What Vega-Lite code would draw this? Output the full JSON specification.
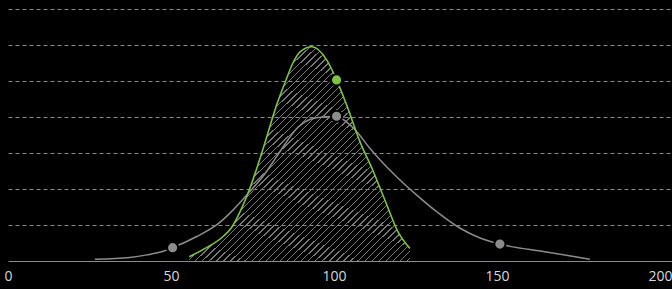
{
  "$schema": "https://vega.github.io/schema/vega-lite/v6.json",
  "width": 664,
  "height": 261,
  "autosize": {"type": "none"},
  "padding": {"left": 8, "top": 0, "right": 0, "bottom": 28},
  "background": "#000000",
  "config": {"view": {"stroke": null}},
  "datasets": {
    "curves": [
      {"series": "gray", "x": 26.7, "y": 0.05},
      {"series": "gray", "x": 37.4, "y": 0.1},
      {"series": "gray", "x": 42.6, "y": 0.17},
      {"series": "gray", "x": 47.6, "y": 0.27},
      {"series": "gray", "x": 50.5, "y": 0.37},
      {"series": "gray", "x": 57.9, "y": 0.68},
      {"series": "gray", "x": 64.4, "y": 1.03},
      {"series": "gray", "x": 68.1, "y": 1.33},
      {"series": "gray", "x": 74.2, "y": 1.93},
      {"series": "gray", "x": 78.3, "y": 2.36},
      {"series": "gray", "x": 82.4, "y": 2.9},
      {"series": "gray", "x": 85.0, "y": 3.25},
      {"series": "gray", "x": 88.6, "y": 3.68},
      {"series": "gray", "x": 92.6, "y": 3.93},
      {"series": "gray", "x": 97.2, "y": 4.01},
      {"series": "gray", "x": 100.6, "y": 4.02},
      {"series": "gray", "x": 103.4, "y": 3.89},
      {"series": "gray", "x": 107.0, "y": 3.59},
      {"series": "gray", "x": 111.0, "y": 3.13},
      {"series": "gray", "x": 114.1, "y": 2.81},
      {"series": "gray", "x": 119.2, "y": 2.34},
      {"series": "gray", "x": 125.4, "y": 1.83},
      {"series": "gray", "x": 131.5, "y": 1.37},
      {"series": "gray", "x": 138.7, "y": 0.91},
      {"series": "gray", "x": 144.8, "y": 0.64},
      {"series": "gray", "x": 150.9, "y": 0.47},
      {"series": "gray", "x": 164.7, "y": 0.26},
      {"series": "gray", "x": 178.5, "y": 0.05},
      {"series": "green", "x": 55.6, "y": 0.12},
      {"series": "green", "x": 60.9, "y": 0.37},
      {"series": "green", "x": 66.0, "y": 0.68},
      {"series": "green", "x": 68.6, "y": 0.93},
      {"series": "green", "x": 71.2, "y": 1.37},
      {"series": "green", "x": 74.2, "y": 2.02},
      {"series": "green", "x": 78.3, "y": 3.13},
      {"series": "green", "x": 82.4, "y": 4.33},
      {"series": "green", "x": 85.3, "y": 5.03},
      {"series": "green", "x": 87.4, "y": 5.5},
      {"series": "green", "x": 89.6, "y": 5.81},
      {"series": "green", "x": 93.2, "y": 5.95},
      {"series": "green", "x": 97.8, "y": 5.58},
      {"series": "green", "x": 100.8, "y": 5.03},
      {"series": "green", "x": 103.9, "y": 4.33},
      {"series": "green", "x": 108.0, "y": 3.31},
      {"series": "green", "x": 112.1, "y": 2.48},
      {"series": "green", "x": 116.2, "y": 1.56},
      {"series": "green", "x": 119.7, "y": 0.8},
      {"series": "green", "x": 123.3, "y": 0.35}
    ],
    "dots": [
      {"series": "gray", "x": 50.5, "y": 0.37},
      {"series": "gray", "x": 100.8, "y": 4.02},
      {"series": "gray", "x": 150.9, "y": 0.47},
      {"series": "green", "x": 100.8, "y": 5.03}
    ]
  },
  "encoding": {
    "x": {
      "field": "x",
      "type": "quantitative",
      "scale": {"domain": [0, 203.7], "nice": false, "zero": false},
      "axis": {
        "title": null,
        "values": [0, 50, 100, 150, 200],
        "grid": false,
        "ticks": false,
        "domainColor": "#8a8a8a",
        "domainWidth": 1,
        "labelColor": "#d8d8d8",
        "labelFont": "Open Sans",
        "labelFontSize": 14,
        "labelPadding": 8,
        "labelFlush": false
      }
    },
    "y": {
      "field": "y",
      "type": "quantitative",
      "scale": {"domain": [0, 7.25], "nice": false},
      "axis": {
        "title": null,
        "values": [1, 2, 3, 4, 5, 6, 7],
        "labels": false,
        "ticks": false,
        "domain": false,
        "grid": true,
        "gridColor": "#8a8a8a",
        "gridDash": [4, 3],
        "gridWidth": 1
      }
    }
  },
  "layer": [
    {
      "data": {"name": "curves"},
      "transform": [{"filter": "datum.series === 'green'"}],
      "mark": {
        "type": "area",
        "interpolate": "monotone",
        "color": {
          "gradient": "linear",
          "x1": 0, "y1": 0, "x2": 1, "y2": 1,
          "stops": [
            {"offset": 0, "color": "#777"}, {"offset": 0.003, "color": "#777"}, {"offset": 0.003, "color": "rgba(0,0,0,0)"}, {"offset": 0.016, "color": "rgba(0,0,0,0)"},
            {"offset": 0.016, "color": "#777"}, {"offset": 0.019, "color": "#777"}, {"offset": 0.019, "color": "rgba(0,0,0,0)"}, {"offset": 0.032, "color": "rgba(0,0,0,0)"},
            {"offset": 0.032, "color": "#777"}, {"offset": 0.035, "color": "#777"}, {"offset": 0.035, "color": "rgba(0,0,0,0)"}, {"offset": 0.048, "color": "rgba(0,0,0,0)"},
            {"offset": 0.048, "color": "#777"}, {"offset": 0.051, "color": "#777"}, {"offset": 0.051, "color": "rgba(0,0,0,0)"}, {"offset": 0.064, "color": "rgba(0,0,0,0)"},
            {"offset": 0.064, "color": "#777"}, {"offset": 0.067, "color": "#777"}, {"offset": 0.067, "color": "rgba(0,0,0,0)"}, {"offset": 0.08, "color": "rgba(0,0,0,0)"},
            {"offset": 0.08, "color": "#777"}, {"offset": 0.083, "color": "#777"}, {"offset": 0.083, "color": "rgba(0,0,0,0)"}, {"offset": 0.096, "color": "rgba(0,0,0,0)"},
            {"offset": 0.096, "color": "#777"}, {"offset": 0.099, "color": "#777"}, {"offset": 0.099, "color": "rgba(0,0,0,0)"}, {"offset": 0.112, "color": "rgba(0,0,0,0)"},
            {"offset": 0.112, "color": "#777"}, {"offset": 0.115, "color": "#777"}, {"offset": 0.115, "color": "rgba(0,0,0,0)"}, {"offset": 0.128, "color": "rgba(0,0,0,0)"},
            {"offset": 0.128, "color": "#777"}, {"offset": 0.131, "color": "#777"}, {"offset": 0.131, "color": "rgba(0,0,0,0)"}, {"offset": 0.144, "color": "rgba(0,0,0,0)"},
            {"offset": 0.144, "color": "#777"}, {"offset": 0.147, "color": "#777"}, {"offset": 0.147, "color": "rgba(0,0,0,0)"}, {"offset": 0.16, "color": "rgba(0,0,0,0)"},
            {"offset": 0.16, "color": "#777"}, {"offset": 0.163, "color": "#777"}, {"offset": 0.163, "color": "rgba(0,0,0,0)"}, {"offset": 0.176, "color": "rgba(0,0,0,0)"},
            {"offset": 0.176, "color": "#777"}, {"offset": 0.179, "color": "#777"}, {"offset": 0.179, "color": "rgba(0,0,0,0)"}, {"offset": 0.192, "color": "rgba(0,0,0,0)"},
            {"offset": 0.192, "color": "#777"}, {"offset": 0.195, "color": "#777"}, {"offset": 0.195, "color": "rgba(0,0,0,0)"}, {"offset": 0.208, "color": "rgba(0,0,0,0)"},
            {"offset": 0.208, "color": "#777"}, {"offset": 0.211, "color": "#777"}, {"offset": 0.211, "color": "rgba(0,0,0,0)"}, {"offset": 0.224, "color": "rgba(0,0,0,0)"},
            {"offset": 0.224, "color": "#777"}, {"offset": 0.227, "color": "#777"}, {"offset": 0.227, "color": "rgba(0,0,0,0)"}, {"offset": 0.24, "color": "rgba(0,0,0,0)"},
            {"offset": 0.24, "color": "#777"}, {"offset": 0.243, "color": "#777"}, {"offset": 0.243, "color": "rgba(0,0,0,0)"}, {"offset": 0.256, "color": "rgba(0,0,0,0)"},
            {"offset": 0.256, "color": "#777"}, {"offset": 0.259, "color": "#777"}, {"offset": 0.259, "color": "rgba(0,0,0,0)"}, {"offset": 0.272, "color": "rgba(0,0,0,0)"},
            {"offset": 0.272, "color": "#777"}, {"offset": 0.275, "color": "#777"}, {"offset": 0.275, "color": "rgba(0,0,0,0)"}, {"offset": 0.288, "color": "rgba(0,0,0,0)"},
            {"offset": 0.288, "color": "#777"}, {"offset": 0.291, "color": "#777"}, {"offset": 0.291, "color": "rgba(0,0,0,0)"}, {"offset": 0.304, "color": "rgba(0,0,0,0)"},
            {"offset": 0.304, "color": "#777"}, {"offset": 0.307, "color": "#777"}, {"offset": 0.307, "color": "rgba(0,0,0,0)"}, {"offset": 0.32, "color": "rgba(0,0,0,0)"},
            {"offset": 0.32, "color": "#777"}, {"offset": 0.323, "color": "#777"}, {"offset": 0.323, "color": "rgba(0,0,0,0)"}, {"offset": 0.336, "color": "rgba(0,0,0,0)"},
            {"offset": 0.336, "color": "#777"}, {"offset": 0.339, "color": "#777"}, {"offset": 0.339, "color": "rgba(0,0,0,0)"}, {"offset": 0.352, "color": "rgba(0,0,0,0)"},
            {"offset": 0.352, "color": "#777"}, {"offset": 0.355, "color": "#777"}, {"offset": 0.355, "color": "rgba(0,0,0,0)"}, {"offset": 0.368, "color": "rgba(0,0,0,0)"},
            {"offset": 0.368, "color": "#777"}, {"offset": 0.371, "color": "#777"}, {"offset": 0.371, "color": "rgba(0,0,0,0)"}, {"offset": 0.384, "color": "rgba(0,0,0,0)"},
            {"offset": 0.384, "color": "#777"}, {"offset": 0.387, "color": "#777"}, {"offset": 0.387, "color": "rgba(0,0,0,0)"}, {"offset": 0.4, "color": "rgba(0,0,0,0)"},
            {"offset": 0.4, "color": "#777"}, {"offset": 0.403, "color": "#777"}, {"offset": 0.403, "color": "rgba(0,0,0,0)"}, {"offset": 0.416, "color": "rgba(0,0,0,0)"},
            {"offset": 0.416, "color": "#777"}, {"offset": 0.419, "color": "#777"}, {"offset": 0.419, "color": "rgba(0,0,0,0)"}, {"offset": 0.432, "color": "rgba(0,0,0,0)"},
            {"offset": 0.432, "color": "#777"}, {"offset": 0.435, "color": "#777"}, {"offset": 0.435, "color": "rgba(0,0,0,0)"}, {"offset": 0.448, "color": "rgba(0,0,0,0)"},
            {"offset": 0.448, "color": "#777"}, {"offset": 0.451, "color": "#777"}, {"offset": 0.451, "color": "rgba(0,0,0,0)"}, {"offset": 0.464, "color": "rgba(0,0,0,0)"},
            {"offset": 0.464, "color": "#777"}, {"offset": 0.467, "color": "#777"}, {"offset": 0.467, "color": "rgba(0,0,0,0)"}, {"offset": 0.48, "color": "rgba(0,0,0,0)"},
            {"offset": 0.48, "color": "#777"}, {"offset": 0.483, "color": "#777"}, {"offset": 0.483, "color": "rgba(0,0,0,0)"}, {"offset": 0.496, "color": "rgba(0,0,0,0)"},
            {"offset": 0.496, "color": "#777"}, {"offset": 0.499, "color": "#777"}, {"offset": 0.499, "color": "rgba(0,0,0,0)"}, {"offset": 0.512, "color": "rgba(0,0,0,0)"},
            {"offset": 0.512, "color": "#777"}, {"offset": 0.515, "color": "#777"}, {"offset": 0.515, "color": "rgba(0,0,0,0)"}, {"offset": 0.528, "color": "rgba(0,0,0,0)"},
            {"offset": 0.528, "color": "#777"}, {"offset": 0.531, "color": "#777"}, {"offset": 0.531, "color": "rgba(0,0,0,0)"}, {"offset": 0.544, "color": "rgba(0,0,0,0)"},
            {"offset": 0.544, "color": "#777"}, {"offset": 0.547, "color": "#777"}, {"offset": 0.547, "color": "rgba(0,0,0,0)"}, {"offset": 0.56, "color": "rgba(0,0,0,0)"},
            {"offset": 0.56, "color": "#777"}, {"offset": 0.563, "color": "#777"}, {"offset": 0.563, "color": "rgba(0,0,0,0)"}, {"offset": 0.576, "color": "rgba(0,0,0,0)"},
            {"offset": 0.576, "color": "#777"}, {"offset": 0.579, "color": "#777"}, {"offset": 0.579, "color": "rgba(0,0,0,0)"}, {"offset": 0.592, "color": "rgba(0,0,0,0)"},
            {"offset": 0.592, "color": "#777"}, {"offset": 0.595, "color": "#777"}, {"offset": 0.595, "color": "rgba(0,0,0,0)"}, {"offset": 0.608, "color": "rgba(0,0,0,0)"},
            {"offset": 0.608, "color": "#777"}, {"offset": 0.611, "color": "#777"}, {"offset": 0.611, "color": "rgba(0,0,0,0)"}, {"offset": 0.624, "color": "rgba(0,0,0,0)"},
            {"offset": 0.624, "color": "#777"}, {"offset": 0.627, "color": "#777"}, {"offset": 0.627, "color": "rgba(0,0,0,0)"}, {"offset": 0.64, "color": "rgba(0,0,0,0)"},
            {"offset": 0.64, "color": "#777"}, {"offset": 0.643, "color": "#777"}, {"offset": 0.643, "color": "rgba(0,0,0,0)"}, {"offset": 0.656, "color": "rgba(0,0,0,0)"},
            {"offset": 0.656, "color": "#777"}, {"offset": 0.659, "color": "#777"}, {"offset": 0.659, "color": "rgba(0,0,0,0)"}, {"offset": 0.672, "color": "rgba(0,0,0,0)"},
            {"offset": 0.672, "color": "#777"}, {"offset": 0.675, "color": "#777"}, {"offset": 0.675, "color": "rgba(0,0,0,0)"}, {"offset": 0.688, "color": "rgba(0,0,0,0)"},
            {"offset": 0.688, "color": "#777"}, {"offset": 0.691, "color": "#777"}, {"offset": 0.691, "color": "rgba(0,0,0,0)"}, {"offset": 0.704, "color": "rgba(0,0,0,0)"},
            {"offset": 0.704, "color": "#777"}, {"offset": 0.707, "color": "#777"}, {"offset": 0.707, "color": "rgba(0,0,0,0)"}, {"offset": 0.72, "color": "rgba(0,0,0,0)"},
            {"offset": 0.72, "color": "#777"}, {"offset": 0.723, "color": "#777"}, {"offset": 0.723, "color": "rgba(0,0,0,0)"}, {"offset": 0.736, "color": "rgba(0,0,0,0)"},
            {"offset": 0.736, "color": "#777"}, {"offset": 0.739, "color": "#777"}, {"offset": 0.739, "color": "rgba(0,0,0,0)"}, {"offset": 0.752, "color": "rgba(0,0,0,0)"},
            {"offset": 0.752, "color": "#777"}, {"offset": 0.755, "color": "#777"}, {"offset": 0.755, "color": "rgba(0,0,0,0)"}, {"offset": 0.768, "color": "rgba(0,0,0,0)"},
            {"offset": 0.768, "color": "#777"}, {"offset": 0.771, "color": "#777"}, {"offset": 0.771, "color": "rgba(0,0,0,0)"}, {"offset": 0.784, "color": "rgba(0,0,0,0)"},
            {"offset": 0.784, "color": "#777"}, {"offset": 0.787, "color": "#777"}, {"offset": 0.787, "color": "rgba(0,0,0,0)"}, {"offset": 0.8, "color": "rgba(0,0,0,0)"},
            {"offset": 0.8, "color": "#777"}, {"offset": 0.803, "color": "#777"}, {"offset": 0.803, "color": "rgba(0,0,0,0)"}, {"offset": 0.816, "color": "rgba(0,0,0,0)"},
            {"offset": 0.816, "color": "#777"}, {"offset": 0.819, "color": "#777"}, {"offset": 0.819, "color": "rgba(0,0,0,0)"}, {"offset": 0.832, "color": "rgba(0,0,0,0)"},
            {"offset": 0.832, "color": "#777"}, {"offset": 0.835, "color": "#777"}, {"offset": 0.835, "color": "rgba(0,0,0,0)"}, {"offset": 0.848, "color": "rgba(0,0,0,0)"},
            {"offset": 0.848, "color": "#777"}, {"offset": 0.851, "color": "#777"}, {"offset": 0.851, "color": "rgba(0,0,0,0)"}, {"offset": 0.864, "color": "rgba(0,0,0,0)"},
            {"offset": 0.864, "color": "#777"}, {"offset": 0.867, "color": "#777"}, {"offset": 0.867, "color": "rgba(0,0,0,0)"}, {"offset": 0.88, "color": "rgba(0,0,0,0)"},
            {"offset": 0.88, "color": "#777"}, {"offset": 0.883, "color": "#777"}, {"offset": 0.883, "color": "rgba(0,0,0,0)"}, {"offset": 0.896, "color": "rgba(0,0,0,0)"},
            {"offset": 0.896, "color": "#777"}, {"offset": 0.899, "color": "#777"}, {"offset": 0.899, "color": "rgba(0,0,0,0)"}, {"offset": 0.912, "color": "rgba(0,0,0,0)"},
            {"offset": 0.912, "color": "#777"}, {"offset": 0.915, "color": "#777"}, {"offset": 0.915, "color": "rgba(0,0,0,0)"}, {"offset": 0.928, "color": "rgba(0,0,0,0)"},
            {"offset": 0.928, "color": "#777"}, {"offset": 0.931, "color": "#777"}, {"offset": 0.931, "color": "rgba(0,0,0,0)"}, {"offset": 0.944, "color": "rgba(0,0,0,0)"},
            {"offset": 0.944, "color": "#777"}, {"offset": 0.947, "color": "#777"}, {"offset": 0.947, "color": "rgba(0,0,0,0)"}, {"offset": 0.96, "color": "rgba(0,0,0,0)"},
            {"offset": 0.96, "color": "#777"}, {"offset": 0.963, "color": "#777"}, {"offset": 0.963, "color": "rgba(0,0,0,0)"}, {"offset": 0.976, "color": "rgba(0,0,0,0)"},
            {"offset": 0.976, "color": "#777"}, {"offset": 0.979, "color": "#777"}, {"offset": 0.979, "color": "rgba(0,0,0,0)"}, {"offset": 0.992, "color": "rgba(0,0,0,0)"},
            {"offset": 0.992, "color": "#777"}, {"offset": 0.995, "color": "#777"}, {"offset": 0.995, "color": "rgba(0,0,0,0)"}, {"offset": 1, "color": "rgba(0,0,0,0)"}
          ]
        }
      }
    },
    {
      "data": {"name": "curves"},
      "transform": [{"filter": "datum.series === 'gray'"}],
      "mark": {"type": "line", "interpolate": "monotone", "color": "#8c8c8c", "strokeWidth": 1.5}
    },
    {
      "data": {"name": "curves"},
      "transform": [{"filter": "datum.series === 'green'"}],
      "mark": {"type": "line", "interpolate": "monotone", "color": "#7dc242", "strokeWidth": 1.6}
    },
    {
      "data": {"name": "dots"},
      "mark": {"type": "point", "filled": true, "size": 125, "opacity": 1, "stroke": "#000000", "strokeWidth": 2},
      "encoding": {
        "color": {
          "field": "series",
          "type": "nominal",
          "scale": {"domain": ["gray", "green"], "range": ["#8c8c8c", "#7dc242"]},
          "legend": null
        }
      }
    }
  ]
}
